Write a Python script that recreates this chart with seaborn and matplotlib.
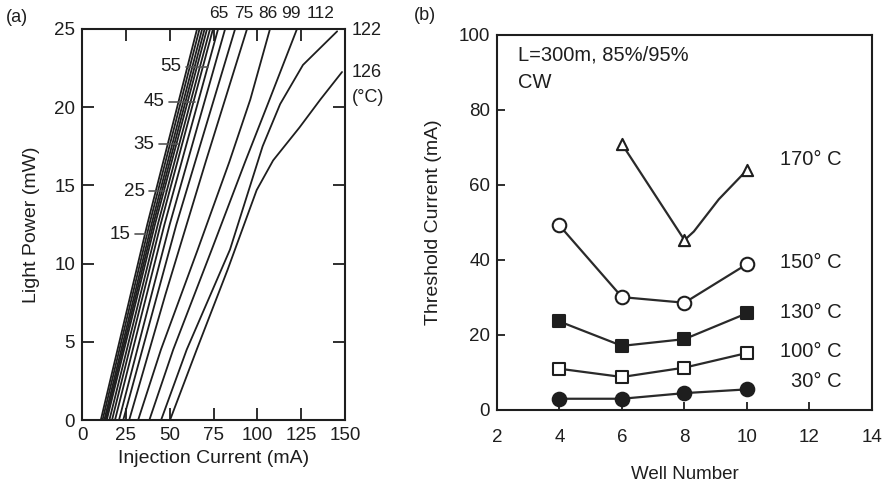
import matplotlib
matplotlib.use("Agg")
import matplotlib.pyplot as plt
import numpy as np
import pandas as pd
import seaborn as sns

# ---------------- (a) light output vs injection current ----------------
# near-linear curves: current (mA) at 0, 12.5 and 25 mW
cluster_temps = [15, 20, 25, 30, 35, 40, 45, 55, 65, 75]
cluster_power = [0, 12.5, 25]
cluster_ith = [10.7, 11.7, 12.7, 13.4, 14.1, 15.6, 17.1, 18.8, 21.1, 23.5]
cluster_mid = [37.2, 38.4, 39.6, 40.6, 41.6, 43.2, 44.8, 47.0, 50.0, 53.8]
cluster_top = [65.6, 67.0, 68.5, 69.9, 71.3, 73.0, 74.7, 77.6, 81.6, 87.3]

# high-temperature curves with visible roll-over
cur_86 = [26.9, 47.5, 70.5, 94.1]
pow_86 = [0, 8, 16.5, 25]
cur_99 = [32.0, 45.0, 66.0, 84.0, 96.0, 107.2]
pow_99 = [0, 4.5, 10.9, 16.5, 20.5, 25]
cur_112 = [38.4, 52.0, 74.0, 93.0, 107.0, 122.6]
pow_112 = [0, 4.5, 10.9, 16.5, 20.5, 25]
cur_122 = [45.1, 59.7, 84.4, 103.0, 113.0, 126.0, 145.5]
pow_122 = [0, 4.5, 10.9, 17.5, 20.2, 22.7, 24.85]
cur_126 = [50.2, 65.4, 83.0, 99.6, 109.0, 124.0, 136.0, 148.3]
pow_126 = [0, 4.5, 9.6, 14.7, 16.6, 18.7, 20.5, 22.25]

# temperature labels with leader lines (left side)
left_labels = ["15", "25", "35", "45", "55"]
left_label_y = [11.89, 14.64, 17.63, 20.35, 22.57]
leader_x0 = [30.2, 38.2, 43.9, 49.6, 59.3]
leader_x1 = [37.1, 47.3, 54.8, 64.5, 71.9]
# labels above the frame
top_labels = ["65", "75", "86", "99", "112"]
top_label_x = [78.0, 92.2, 105.8, 119.0, 136.3]
# labels right of the frame
right_labels = ["122", "126", "(°C)"]
right_label_y = [24.9, 22.25, 20.6]

# ---------------- (b) threshold current vs well number ----------------
wells = [4, 6, 8, 10]
ith_30 = [3.0, 3.0, 4.5, 5.5]
ith_100 = [11.0, 8.8, 11.3, 15.2]
ith_130 = [23.6, 17.1, 18.9, 25.8]
ith_150 = [49.2, 30.1, 28.6, 38.9]
wells_170 = [6, 8, 10]
ith_170 = [70.9, 45.3, 64.0]
# hand-drawn guide line through the 170 °C points
path_170_x = [6, 8, 8.3, 9.1, 10]
path_170_y = [70.9, 45.3, 47.6, 56.2, 64.0]

series_labels = ["170° C", "150° C", "130° C", "100° C", "30° C"]
series_label_y = [66.7, 39.2, 26.1, 15.7, 7.5]

INK = "#1e1e1e"
TICK_FS = 13.5
LABEL_FS = 14
NOTE_FS = 14.5

sns.set_theme(style="ticks")
plt.rcParams["font.family"] = ["Liberation Sans", "DejaVu Sans"]
plt.rcParams["axes.edgecolor"] = INK
plt.rcParams["axes.linewidth"] = 1.5
plt.rcParams["xtick.color"] = INK
plt.rcParams["ytick.color"] = INK
plt.rcParams["text.color"] = INK
plt.rcParams["axes.labelcolor"] = INK

fig = plt.figure(figsize=(8.84, 4.84), dpi=100)
ax1 = fig.add_axes([0.0928, 0.1322, 0.2975, 0.8079])
ax2 = fig.add_axes([0.5622, 0.1529, 0.4242, 0.7748])

# build long-form table for panel (a)
rows = []
for t, i0, im, it in zip(cluster_temps, cluster_ith, cluster_mid, cluster_top):
    for p, c in zip(cluster_power, [i0, im, it]):
        rows.append((t, c, p))
for t, cs, ps in [(86, cur_86, pow_86), (99, cur_99, pow_99), (112, cur_112, pow_112),
                  (122, cur_122, pow_122), (126, cur_126, pow_126)]:
    for c, p in zip(cs, ps):
        rows.append((t, c, p))
li = pd.DataFrame(rows, columns=["T", "I", "P"])

sns.lineplot(data=li, x="I", y="P", units="T", estimator=None, sort=False,
             color=INK, lw=1.3, ax=ax1, legend=False)

ax1.set_xlim(0, 150)
ax1.set_ylim(0, 25)
ax1.set_xticks([0, 25, 50, 75, 100, 125, 150])
ax1.set_yticks([0, 5, 10, 15, 20, 25])
ax1.tick_params(direction="in", length=8.5, width=1.3, labelsize=TICK_FS,
                top=True, right=True, pad=5)
ax1.set_xlabel("Injection Current (mA)", fontsize=LABEL_FS, labelpad=4)
ax1.set_ylabel("Light Power (mW)", fontsize=LABEL_FS, labelpad=10)

for lab, y, x0, x1 in zip(left_labels, left_label_y, leader_x0, leader_x1):
    ax1.plot([x0, x1], [y, y], color="#555555", lw=1.2)
    ax1.text(x0 - 2.5, y, lab, ha="right", va="center", fontsize=TICK_FS)
for lab, x in zip(top_labels, top_label_x):
    ax1.text(x, 26.0, lab, ha="center", va="center", fontsize=12.5, clip_on=False)
for lab, y in zip(right_labels, right_label_y):
    ax1.text(154, y, lab, ha="left", va="center", fontsize=13, clip_on=False)

# panel (b)
line_kw = dict(color="#2a2a2a", lw=1.6, ax=ax2, legend=False, sort=False)
sns.lineplot(x=wells, y=ith_30, **line_kw)
sns.lineplot(x=wells, y=ith_100, **line_kw)
sns.lineplot(x=wells, y=ith_130, **line_kw)
sns.lineplot(x=wells, y=ith_150, **line_kw)
sns.lineplot(x=path_170_x, y=path_170_y, **line_kw)

mk = dict(ax=ax2, legend=False, zorder=5, linewidth=1.5, edgecolor=INK)
sns.scatterplot(x=wells, y=ith_30, marker="o", s=95, color=INK, **mk)
sns.scatterplot(x=wells, y=ith_100, marker="s", s=80, color="white", **mk)
sns.scatterplot(x=wells, y=ith_130, marker="s", s=80, color=INK, **mk)
sns.scatterplot(x=wells, y=ith_150, marker="o", s=95, color="white", **mk)
sns.scatterplot(x=wells_170, y=ith_170, marker="^", s=65, color="white", **mk)

ax2.set_xlim(2, 14)
ax2.set_ylim(0, 100)
ax2.set_xticks([2, 4, 6, 8, 10, 12, 14])
ax2.set_yticks([0, 20, 40, 60, 80, 100])
ax2.tick_params(direction="in", length=6, width=1.3, labelsize=TICK_FS)
ax2.tick_params(axis="x", pad=14)
ax2.tick_params(axis="y", pad=5)
ax2.set_xlabel("Well Number", fontsize=13.5, labelpad=14)
ax2.set_ylabel("Threshold Current (mA)", fontsize=LABEL_FS, labelpad=12)

ax2.text(2.67, 94.7, "L=300m, 85%/95%", ha="left", va="center", fontsize=NOTE_FS)
ax2.text(2.67, 87.2, "CW", ha="left", va="center", fontsize=NOTE_FS)
for lab, y in zip(series_labels, series_label_y):
    ax2.text(13.04, y, lab, ha="right", va="center", fontsize=NOTE_FS)

fig.text(17 / 884, 1 - 18 / 484, "(a)", ha="center", va="center", fontsize=13)
fig.text(425 / 884, 1 - 16 / 484, "(b)", ha="center", va="center", fontsize=13)

fig.savefig("out.png", dpi=100)
